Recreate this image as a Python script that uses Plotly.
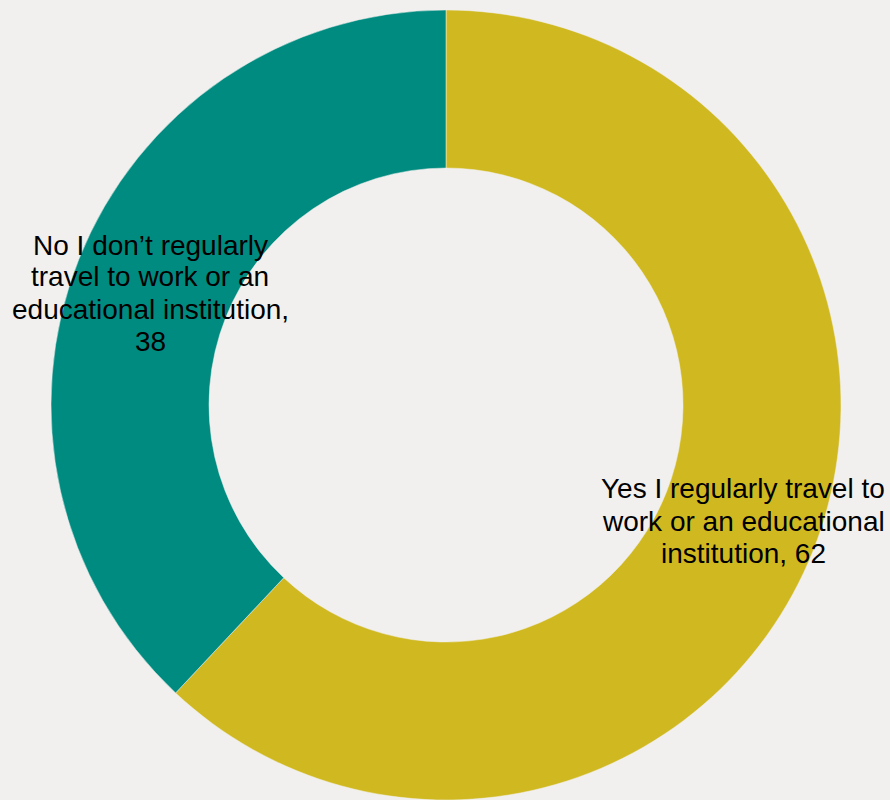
import plotly.graph_objects as go

# Survey answers and their shares
categories = [
    "Yes I regularly travel to work or an educational institution",
    "No I don\u2019t regularly travel to work or an educational institution",
]
values = [62, 38]
colors = ["#D0B920", "#008B80"]

# Wrapped label lines (the value is appended to the final line)
label_lines = [
    ["Yes I regularly travel to", "work or an educational", "institution,"],
    ["No I don\u2019t regularly", "travel to work or an", "educational institution,", ""],
]

W, H = 890, 800
BG = "#F2F0EF"

fig = go.Figure(
    go.Pie(
        labels=categories,
        values=values,
        hole=0.6,
        sort=False,
        direction="clockwise",
        rotation=0,
        marker=dict(colors=colors, line=dict(color=BG, width=0.5)),
        textinfo="none",
        hoverinfo="label+value",
        showlegend=False,
        domain=dict(x=[51 / W, 841 / W], y=[0, 790 / H]),
    )
)

# Label anchor positions in pixels (centre x, first-line centre y, line step)
label_pos = [(743, 489, 32), (150, 245, 32)]
for lines, val, (cx, cy, step) in zip(label_lines, values, label_pos):
    lines = list(lines)
    last = lines[-1]
    lines[-1] = (last + " " + str(val)).strip()
    for i, line in enumerate(lines):
        fig.add_annotation(
            x=cx / W,
            y=1 - (cy + i * step) / H,
            xref="paper",
            yref="paper",
            text=line,
            showarrow=False,
            xanchor="center",
            yanchor="middle",
            font=dict(family="Liberation Sans, Arial, sans-serif", size=28, color="#000000"),
        )

fig.update_layout(
    width=W,
    height=H,
    margin=dict(l=0, r=0, t=0, b=0),
    paper_bgcolor=BG,
    plot_bgcolor=BG,
)

fig.write_html("out.html")
